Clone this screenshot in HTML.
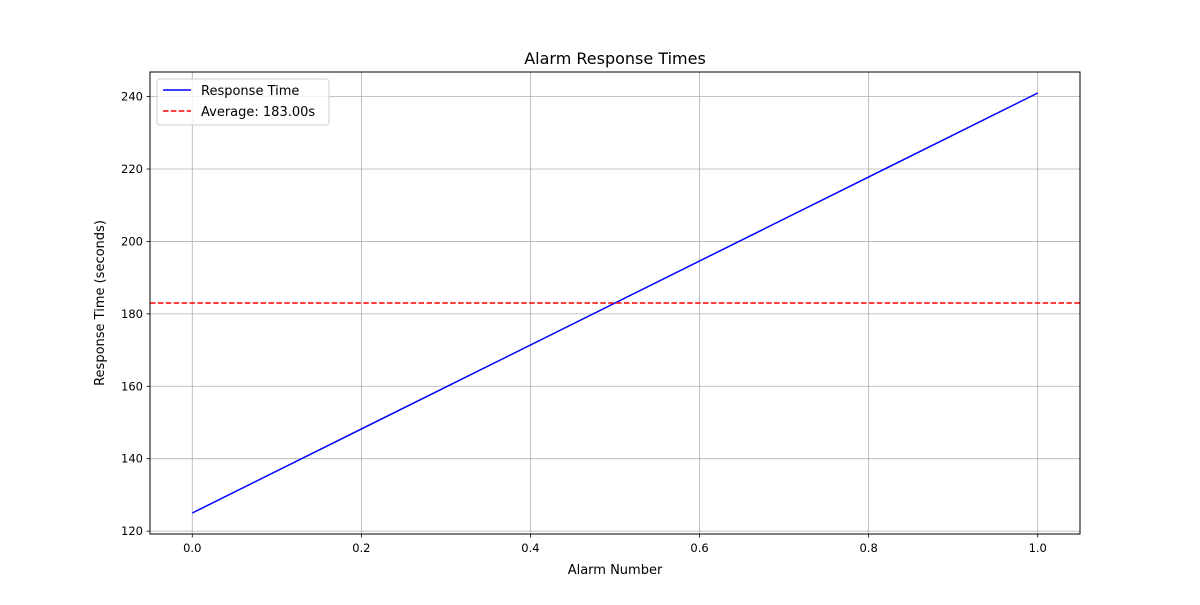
<!DOCTYPE html>
<html><head><meta charset="utf-8"><style>
body{margin:0;background:#fff;font-family:"Liberation Sans","DejaVu Sans",sans-serif;}
</style></head><body>
<svg id="chart" width="1200" height="600" xmlns="http://www.w3.org/2000/svg" font-family="DejaVu Sans, Liberation Sans, sans-serif">
<rect width="1200" height="600" fill="#fff"/>
<g id="grid"></g>
<g id="marks"></g>
<rect x="150" y="72" width="930" height="462" fill="none" stroke="#000" stroke-width="1"/>
<g id="ticks"></g>
<text x="615" y="64" text-anchor="middle" font-size="16">Alarm Response Times</text>
<text x="615" y="574" text-anchor="middle" font-size="13">Alarm Number</text>
<text x="104" y="303" text-anchor="middle" font-size="13" transform="rotate(-90 104 303)">Response Time (seconds)</text>
<g>
<rect x="157" y="79" width="172" height="46" rx="3" fill="#fff" fill-opacity="0.8" stroke="#ccc"/>
<line x1="163" y1="90" x2="191" y2="90" stroke="#0000ff" stroke-width="1.5"/>
<text x="201" y="95" font-size="13">Response Time</text>
<line x1="163" y1="111" x2="191" y2="111" stroke="#ff0000" stroke-width="1.5" stroke-dasharray="5.5,2.4"/>
<text x="201" y="116" font-size="13">Average: 183.00s</text>
</g>
</svg>
<script>
const xValues = [0, 1];
const yValues = [125, 241];
const averageValue = 183;
const xTicks = [0, 0.2, 0.4, 0.6, 0.8, 1.0];
const xTickLabels = ["0.0","0.2","0.4","0.6","0.8","1.0"];
const yTicks = [120, 140, 160, 180, 200, 220, 240];
const yTickLabels = ["120","140","160","180","200","220","240"];

const L=150,R=1080,T=72,B=534;
const xMin=-0.05,xMax=1.05,yMin=119.2,yMax=246.8;
const sx=v=>L+(v-xMin)/(xMax-xMin)*(R-L);
const sy=v=>B-(v-yMin)/(yMax-yMin)*(B-T);
const NS="http://www.w3.org/2000/svg";
function mk(tag,attrs,parent){const e=document.createElementNS(NS,tag);for(const k in attrs)e.setAttribute(k,attrs[k]);parent.appendChild(e);return e;}
const grid=document.getElementById('grid'),ticks=document.getElementById('ticks'),marks=document.getElementById('marks');
xTicks.forEach((v,i)=>{
  const x=sx(v);
  const g=mk('line',{x1:x,x2:x,y1:T,y2:B,stroke:'#b0b0b0','stroke-width':0.8},grid);
  
  
  const t=mk('line',{x1:x,x2:x,y1:B,y2:B+3.5,stroke:'#000','stroke-width':0.8},ticks);
  
  
  const l=mk('text',{x:x,y:B+18,'text-anchor':'middle','font-size':11.5},ticks);
  l.textContent=xTickLabels[i];
  
  
});
yTicks.forEach((v,i)=>{
  const y=sy(v);
  const g=mk('line',{x1:L,x2:R,y1:y,y2:y,stroke:'#b0b0b0','stroke-width':0.8},grid);
  
  
  const t=mk('line',{x1:L-3.5,x2:L,y1:y,y2:y,stroke:'#000','stroke-width':0.8},ticks);
  
  
  const l=mk('text',{x:L-7,y:y+4,'text-anchor':'end','font-size':11.5},ticks);
  l.textContent=yTickLabels[i];
  
  
});
const pts=xValues.map((v,i)=>sx(v)+','+sy(yValues[i])).join(' ');
const line=mk('polyline',{points:pts,fill:'none',stroke:'#0000ff','stroke-width':1.5},marks);


const avg=mk('line',{x1:L,x2:R,y1:sy(averageValue),y2:sy(averageValue),stroke:'#ff0000','stroke-width':1.5,'stroke-dasharray':'5.5,2.4'},marks);


</script>
</body></html>
